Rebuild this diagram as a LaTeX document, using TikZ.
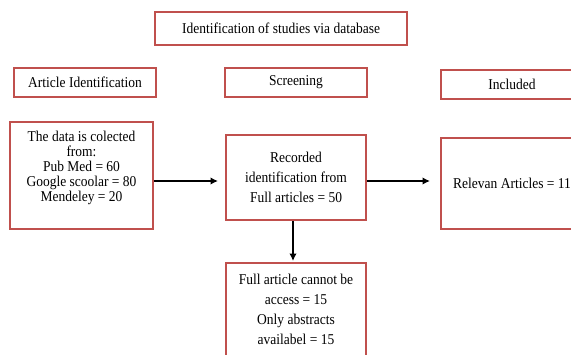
\documentclass[tikz,border=0pt]{standalone}
\usepackage{fontspec}
\setmainfont{Liberation Serif}[FakeStretch=0.9]
\usetikzlibrary{arrows.meta}
\definecolor{boxred}{HTML}{C0504D}
\begin{document}
\begin{tikzpicture}[x=1pt,y=-1pt,
    box/.style={draw=boxred, line width=2pt, fill=white, inner sep=0pt,
                align=center, font=\fontsize{15}{20}\selectfont},
    arr/.style={-{Latex[length=7.5pt,width=7.5pt]}, line width=1.9pt, black}]
    \useasboundingbox (0,0) rectangle (571,354);
    \clip (0,0) rectangle (571,354);
    % headers
    \node [box, minimum width=252pt, minimum height=33pt] (title) at (281,28.5) {Identification of studies via database};
    \node [box, minimum width=142pt, minimum height=29pt] (artid) at (85,82.5) {Article Identification};
    \node [box, minimum width=142pt, minimum height=29pt] (screen) at (296,82.5) {Screening};
    \node [box, minimum width=142pt, minimum height=29pt] (incl) at (512,84.5) {Included};
    % main boxes
    \node [box, minimum width=143pt, minimum height=107pt, text depth=19pt,
           font=\fontsize{15}{15}\selectfont] (data) at (81.5,175.5)
        {The data is colected\\from:\\Pub Med = 60\\Google scoolar = 80\\Mendeley = 20};
    \node [box, minimum width=140pt, minimum height=85pt] (rec) at (296,177.5)
        {Recorded\\identification from\\Full articles = 50};
    \node [box, minimum width=142pt, minimum height=91pt] (rel) at (512,183.5) {Relevan Articles = 11};
    \node [box, minimum width=140pt, minimum height=93pt] (full) at (296,309.5)
        {Full article cannot be\\access = 15\\Only abstracts\\availabel = 15};
    % arrows
    \draw [arr, shorten >=7pt] ([yshift=-5.5pt]data.east) -- ([yshift=-3.5pt]rec.west);
    \draw [arr, shorten >=10pt] ([yshift=-3.5pt]rec.east) -- ([yshift=2.5pt]rel.west);
    \draw [arr, shorten >=1pt] ([xshift=-3pt]rec.south) -- ([xshift=-3pt]full.north);
\end{tikzpicture}
\end{document}
